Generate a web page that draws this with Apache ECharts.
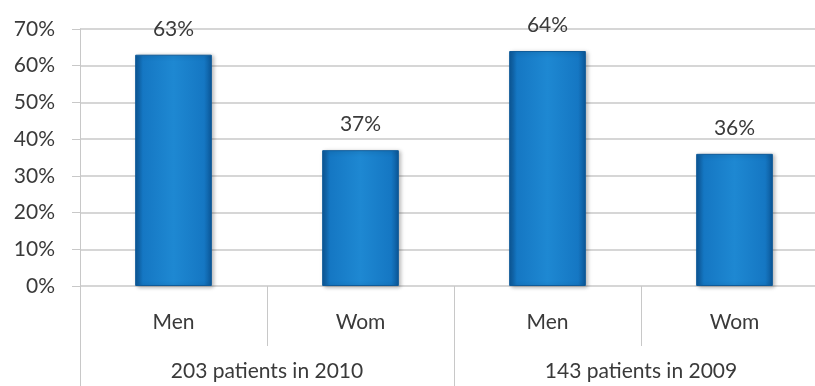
<!DOCTYPE html>
<html>
<head>
<meta charset="utf-8">
<script src="https://cdn.jsdelivr.net/npm/echarts@6/dist/echarts.min.js"></script>
<style>
html,body{margin:0;padding:0;background:#fff;overflow:hidden;width:815px;height:386px;}
/* the plot runs a little past the right edge of the page */
#chart{width:828px;height:386px;}
</style>
</head>
<body>
<div id="chart"></div>
<script>
// Share of patients by sex, grouped by year
const categories = ['Men', 'Wom', 'Men', 'Wom'];
const groups = ['203 patients in 2010', '143 patients in 2009'];
const values = [63, 37, 64, 36];
const yTicks = { min: 0, max: 70, interval: 10 };

const FONT = 'Lato, "Open Sans", sans-serif';
const TEXT = '#3a3a3a';
const LINE = '#c8c8c8';

const barFill = new echarts.graphic.LinearGradient(0, 0, 1, 0, [
  { offset: 0, color: '#0c5797' },
  { offset: 0.1, color: '#1577c3' },
  { offset: 0.5, color: '#1e88d2' },
  { offset: 0.9, color: '#1577c3' },
  { offset: 1, color: '#0c5797' }
]);

const chart = echarts.init(document.getElementById('chart'), null, { renderer: 'canvas' });
chart.setOption({
  animation: false,
  grid: { left: 80, right: 0, top: 29, bottom: 100, containLabel: false },
  xAxis: [
    {
      type: 'category',
      data: categories,
      position: 'bottom',
      axisLine: { show: false },
      axisTick: { show: true, interval: 0, length: 60, lineStyle: { color: LINE, width: 1 } },
      axisLabel: { interval: 0, margin: 26, color: TEXT, fontFamily: FONT, fontSize: 21 }
    },
    {
      type: 'category',
      data: groups,
      position: 'bottom',
      axisLine: { show: false },
      axisTick: { show: true, interval: 0, length: 100, lineStyle: { color: LINE, width: 1 } },
      axisLabel: { interval: 0, margin: 75, color: TEXT, fontFamily: FONT, fontSize: 21 }
    }
  ],
  yAxis: {
    type: 'value',
    min: yTicks.min,
    max: yTicks.max,
    interval: yTicks.interval,
    axisLine: { show: true, lineStyle: { color: LINE, width: 1 } },
    axisTick: { show: true, length: 8, lineStyle: { color: LINE, width: 1 } },
    axisLabel: { formatter: '{value}%', margin: 25, color: TEXT, fontFamily: FONT, fontSize: 21 },
    splitLine: { show: true, lineStyle: { color: LINE, width: 1.5 } }
  },
  series: [
    {
      type: 'bar',
      xAxisIndex: 0,
      data: values,
      barWidth: '41%',
      itemStyle: {
        color: barFill,
        borderColor: '#0f5b99',
        borderWidth: 1,
        shadowColor: 'rgba(0,0,0,0.3)',
        shadowBlur: 4,
        shadowOffsetX: 2,
        shadowOffsetY: 1
      },
      label: {
        show: true,
        position: 'top',
        distance: 15,
        formatter: '{c}%',
        color: TEXT,
        fontFamily: FONT,
        fontSize: 21
      }
    }
  ]
});
</script>
</body>
</html>
